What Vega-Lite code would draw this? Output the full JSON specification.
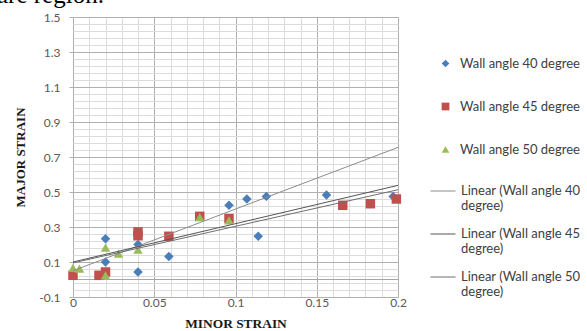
{
  "$schema": "https://vega.github.io/schema/vega-lite/v6.json",
  "width": 325,
  "height": 280,
  "autosize": "none",
  "padding": {"left": 73, "top": 17, "right": 189, "bottom": 34},
  "background": "white",
  "title": {"text": "are region.", "anchor": "start", "frame": "group", "font": "Liberation Serif", "fontSize": 25, "fontWeight": "normal", "color": "#000000", "dx": -76, "dy": 17, "offset": 0, "baseline": "alphabetic"},
  "config": {
    "view": {"stroke": null},
    "legend": {"labelFont": "Lato", "labelFontSize": 13, "labelColor": "#404040", "padding": 0, "labelLimit": 300}
  },
  "datasets": {
    "points": [
      {"series": "Wall angle 40 degree", "minor": 0.02, "major": 0.233},
      {"series": "Wall angle 40 degree", "minor": 0.02, "major": 0.1},
      {"series": "Wall angle 40 degree", "minor": 0.04, "major": 0.2},
      {"series": "Wall angle 40 degree", "minor": 0.04, "major": 0.043},
      {"series": "Wall angle 40 degree", "minor": 0.059, "major": 0.132},
      {"series": "Wall angle 40 degree", "minor": 0.096, "major": 0.424},
      {"series": "Wall angle 40 degree", "minor": 0.107, "major": 0.46},
      {"series": "Wall angle 40 degree", "minor": 0.119, "major": 0.475},
      {"series": "Wall angle 40 degree", "minor": 0.114, "major": 0.247},
      {"series": "Wall angle 40 degree", "minor": 0.156, "major": 0.483},
      {"series": "Wall angle 40 degree", "minor": 0.197, "major": 0.475},
      {"series": "Wall angle 45 degree", "minor": 0.0, "major": 0.024},
      {"series": "Wall angle 45 degree", "minor": 0.016, "major": 0.024},
      {"series": "Wall angle 45 degree", "minor": 0.02, "major": 0.043},
      {"series": "Wall angle 45 degree", "minor": 0.04, "major": 0.272},
      {"series": "Wall angle 45 degree", "minor": 0.04, "major": 0.25},
      {"series": "Wall angle 45 degree", "minor": 0.059, "major": 0.247},
      {"series": "Wall angle 45 degree", "minor": 0.078, "major": 0.361},
      {"series": "Wall angle 45 degree", "minor": 0.096, "major": 0.348},
      {"series": "Wall angle 45 degree", "minor": 0.166, "major": 0.424},
      {"series": "Wall angle 45 degree", "minor": 0.183, "major": 0.433},
      {"series": "Wall angle 45 degree", "minor": 0.199, "major": 0.46},
      {"series": "Wall angle 50 degree", "minor": 0.0, "major": 0.066},
      {"series": "Wall angle 50 degree", "minor": 0.004, "major": 0.062},
      {"series": "Wall angle 50 degree", "minor": 0.02, "major": 0.182},
      {"series": "Wall angle 50 degree", "minor": 0.02, "major": 0.024},
      {"series": "Wall angle 50 degree", "minor": 0.028, "major": 0.148},
      {"series": "Wall angle 50 degree", "minor": 0.04, "major": 0.17},
      {"series": "Wall angle 50 degree", "minor": 0.078, "major": 0.357},
      {"series": "Wall angle 50 degree", "minor": 0.096, "major": 0.338}
    ],
    "trend": [
      {"trend": "Linear (Wall angle 40 degree)", "minor": 0.0, "major": 0.05},
      {"trend": "Linear (Wall angle 40 degree)", "minor": 0.2, "major": 0.755},
      {"trend": "Linear (Wall angle 45 degree)", "minor": 0.0, "major": 0.1},
      {"trend": "Linear (Wall angle 45 degree)", "minor": 0.2, "major": 0.538},
      {"trend": "Linear (Wall angle 50 degree)", "minor": 0.0, "major": 0.095},
      {"trend": "Linear (Wall angle 50 degree)", "minor": 0.2, "major": 0.513}
    ],
    "zero": [
      {"minor": 0.0, "major": 0.0},
      {"minor": 0.2, "major": 0.0}
    ]
  },
  "encoding": {
    "x": {
      "field": "minor", "type": "quantitative",
      "scale": {"domain": [0, 0.2], "nice": false, "zero": false},
      "axis": {
        "values": [0, 0.01, 0.02, 0.03, 0.04, 0.05, 0.06, 0.07, 0.08, 0.09, 0.1, 0.11, 0.12, 0.13, 0.14, 0.15, 0.16, 0.17, 0.18, 0.19, 0.2],
        "labelExpr": "abs(datum.value*20 - round(datum.value*20)) < 0.001 ? format(datum.value, '~g') : ''",
        "gridColor": {"condition": {"test": "abs(datum.value*20 - round(datum.value*20)) < 0.001", "value": "#b0b0b0"}, "value": "#dcdcdc"},
        "ticks": false,
        "domain": false,
        "labelPadding": 0,
        "labelFlush": false,
        "labelOverlap": false,
        "labelFont": "Lato", "labelFontSize": 12, "labelColor": "#595959",
        "title": "MINOR STRAIN",
        "titleFont": "Liberation Serif", "titleFontSize": 13.4, "titleFontWeight": "bold", "titleColor": "#1a1a1a",
        "titleX": 162.5, "titleY": 26, "titleBaseline": "middle", "titleAlign": "center"
      }
    },
    "y": {
      "field": "major", "type": "quantitative",
      "scale": {"domain": [-0.1, 1.5], "nice": false, "zero": false},
      "axis": {
        "values": [-0.1, -0.06, -0.02, 0.02, 0.06, 0.1, 0.14, 0.18, 0.22, 0.26, 0.3, 0.34, 0.38, 0.42, 0.46, 0.5, 0.54, 0.58, 0.62, 0.66, 0.7, 0.74, 0.78, 0.82, 0.86, 0.9, 0.94, 0.98, 1.02, 1.06, 1.1, 1.14, 1.18, 1.22, 1.26, 1.3, 1.34, 1.38, 1.42, 1.46, 1.5],
        "labelExpr": "abs((datum.value+0.1)*5 - round((datum.value+0.1)*5)) < 0.001 ? (datum.value < 0 ? '-' + format(-datum.value, '.1f') : format(datum.value, '.1f')) : ''",
        "gridColor": {"condition": {"test": "abs((datum.value+0.1)*5 - round((datum.value+0.1)*5)) < 0.001", "value": "#b0b0b0"}, "value": "#dcdcdc"},
        "tickColor": {"condition": {"test": "abs((datum.value+0.1)*5 - round((datum.value+0.1)*5)) < 0.001", "value": "#b0b0b0"}, "value": "transparent"},
        "tickSize": 4,
        "domain": false,
        "labelPadding": 9,
        "labelOverlap": false,
        "labelFont": "Lato", "labelFontSize": 12, "labelColor": "#595959",
        "title": "MAJOR STRAIN",
        "titleFont": "Liberation Serif", "titleFontSize": 13, "titleFontWeight": "bold", "titleColor": "#1a1a1a",
        "titleX": -53, "titleY": 140, "titleBaseline": "middle", "titleAlign": "center", "titleAngle": 270
      }
    }
  },
  "layer": [
    {
      "data": {"name": "zero"},
      "mark": {"type": "line", "color": "#a6a6a6", "strokeWidth": 1},
      "encoding": {}
    },
    {
      "data": {"name": "points"},
      "mark": {"type": "point", "filled": true, "opacity": 1, "size": 90},
      "encoding": {
        "color": {
          "field": "series", "type": "nominal",
          "scale": {"domain": ["Wall angle 40 degree", "Wall angle 45 degree", "Wall angle 50 degree"], "range": ["#4a7ebb", "#c0504d", "#9bbb59"]},
          "legend": {"orient": "none", "legendX": 366, "legendY": 40, "title": null, "symbolSize": 60, "labelOffset": 8, "rowPadding": 29}
        },
        "shape": {
          "field": "series", "type": "nominal",
          "scale": {"domain": ["Wall angle 40 degree", "Wall angle 45 degree", "Wall angle 50 degree"], "range": ["diamond", "square", "triangle-up"]},
          "legend": {"orient": "none", "legendX": 366, "legendY": 40, "title": null, "symbolSize": 60, "labelOffset": 8, "rowPadding": 29}
        }
      }
    },
    {
      "data": {"name": "trend"},
      "mark": {"type": "line", "strokeWidth": 1},
      "encoding": {
        "stroke": {
          "field": "trend", "type": "nominal",
          "scale": {"domain": ["Linear (Wall angle 40 degree)", "Linear (Wall angle 45 degree)", "Linear (Wall angle 50 degree)"], "range": ["#8c8c8c", "#555555", "#6e6e6e"]},
          "legend": {"orient": "none", "legendX": 357, "legendY": 161, "title": null, "symbolType": "stroke", "symbolSize": 625, "symbolStrokeWidth": 1, "labelOffset": 5, "rowPadding": 8, "labelExpr": "[replace(datum.label, ' degree)', ''), 'degree)']"}
        }
      }
    }
  ]
}
